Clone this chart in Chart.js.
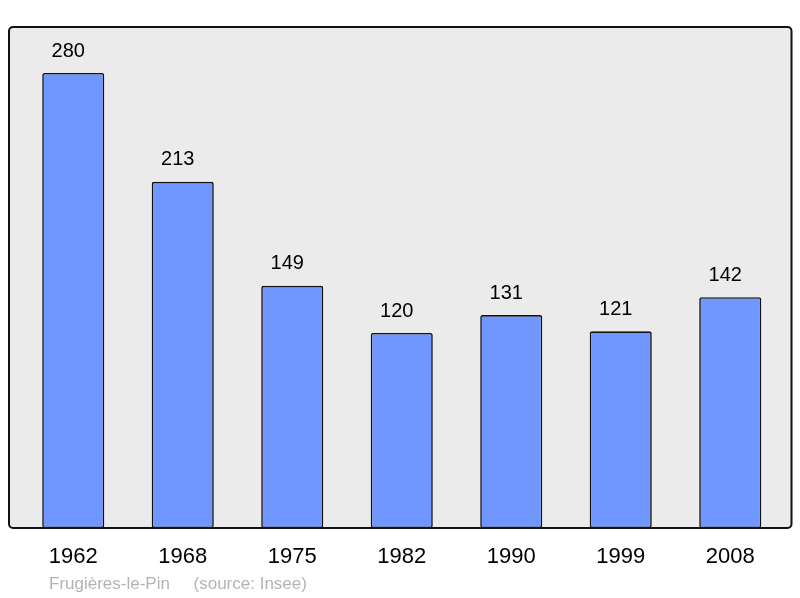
<!DOCTYPE html>
<html lang="fr">
<head>
    <meta charset="UTF-8">
    <title>Frugières-le-Pin</title>
    <script src="https://cdn.jsdelivr.net/npm/chart.js@4.4.0/dist/chart.umd.min.js"></script>
    <style>
        body { margin: 0; background: #fff; }
        canvas { display: block; }
    </style>
</head>
<body>
<canvas id="chart" width="800" height="598"></canvas>
<script>
    const years = ['1962', '1968', '1975', '1982', '1990', '1999', '2008']
    const population = [280, 213, 149, 120, 131, 121, 142]
    const footer = 'Frugières-le-Pin     (source: Insee)'

    const font = '"Liberation Sans", Arial, sans-serif'

    // gray panel behind the bars, border drawn on top
    const frame = {
        id: 'frame',
        beforeDatasetsDraw(chart) {
            const a = chart.chartArea
            const c = chart.ctx
            c.save()
            c.fillStyle = '#ebebeb'
            c.beginPath()
            c.roundRect(a.left - 9.5, a.top, a.right - a.left + 16, a.bottom - a.top, 4)
            c.fill()
            c.restore()
        },
        afterDatasetsDraw(chart) {
            const a = chart.chartArea
            const c = chart.ctx
            c.save()
            c.strokeStyle = '#111'
            c.lineWidth = 2
            c.beginPath()
            c.roundRect(a.left - 9.5, a.top, a.right - a.left + 16, a.bottom - a.top, 4)
            c.stroke()

            // values above bars
            c.fillStyle = '#000'
            c.font = '20px ' + font
            c.textAlign = 'center'
            c.textBaseline = 'middle'
            chart.getDatasetMeta(0).data.forEach((bar, i) => {
                c.fillText(String(population[i]), bar.x - 5, bar.y - 22)
            })

            c.fillStyle = '#b4b4b4'
            c.font = '17px ' + font
            c.textAlign = 'left'
            c.fillText(footer, 49, 584)
            c.restore()
        }
    }

    new Chart(document.getElementById('chart'), {
        type: 'bar',
        data: {
            labels: years,
            datasets: [{
                data: population,
                backgroundColor: '#7097ff',
                borderColor: '#111',
                borderWidth: 1.6,
                borderRadius: 2,
                borderSkipped: false,
                barPercentage: 0.567,
                categoryPercentage: 1,
            }],
        },
        options: {
            responsive: false,
            animation: false,
            layout: {
                padding: {left: 18.5, right: 15, top: 27, bottom: 0},
            },
            plugins: {
                legend: {display: false},
                tooltip: {enabled: false},
            },
            scales: {
                x: {
                    grid: {display: false},
                    border: {display: false},
                    ticks: {
                        color: '#000',
                        font: {family: font, size: 22},
                        padding: 8,
                    },
                    afterFit(scale) {
                        scale.height = 70
                    },
                },
                y: {
                    display: false,
                    min: 0,
                    max: 308.3,
                },
            },
        },
        plugins: [frame],
    })
</script>
</body>
</html>
